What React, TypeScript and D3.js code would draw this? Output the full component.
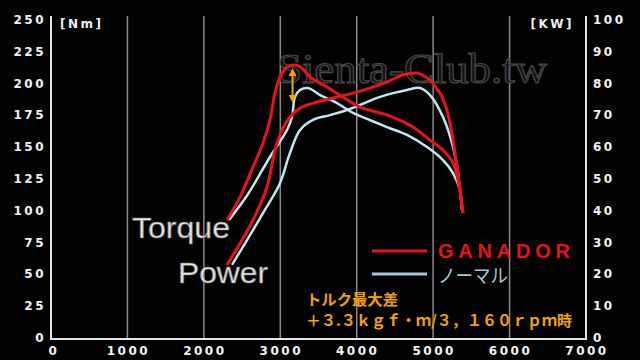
import React from "react";
import * as d3 from "d3";

const rpmTicks = [0, 1000, 2000, 3000, 4000, 5000, 6000, 7000];
const nmTicks = [0, 25, 50, 75, 100, 125, 150, 175, 200, 225, 250];
const kwTicks = [0, 10, 20, 30, 40, 50, 60, 70, 80, 90, 100];

const ganadorTorque: [number, number][] = [
  [2303, 92.8], [2473, 110.8], [2643, 134.4], [2774, 153.3], [2865, 171.4], [2931, 192.6],
  [2996, 205.2], [3088, 213], [3192, 214.6], [3284, 212.2], [3388, 205.2], [3611, 197.3],
  [3820, 189.4], [4043, 181.6], [4265, 177.6], [4475, 173.7], [4736, 165.8], [4959, 155.6],
  [5129, 147.8], [5260, 137.6], [5325, 124.2], [5391, 98.3],
];
const ganadorPower: [number, number][] = [
  [2303, 23.0], [2480, 30.0], [2643, 37.1], [2826, 47.5], [2931, 59.1], [3022, 65.4],
  [3127, 69.5], [3258, 72.3], [3480, 74.2], [3742, 75.8], [3951, 77.0], [4174, 78.6],
  [4396, 80.5], [4605, 82.7], [4788, 83.3], [4919, 81.8], [5090, 77.0], [5181, 71.7],
  [5260, 62.3], [5325, 51.9], [5391, 39.3],
];
const normalTorque: [number, number][] = [
  [2329, 92.8], [2565, 112], [2865, 142.3], [3088, 163.5], [3153, 173.7], [3192, 189.4],
  [3258, 194.9], [3363, 196.5], [3520, 191], [3742, 184.7], [3951, 176.9], [4174, 171.3],
  [4396, 165.8], [4658, 159.6], [4920, 150.1], [5129, 139.9], [5260, 129.7], [5351, 116.3],
  [5378, 100.6],
];
const normalPower: [number, number][] = [
  [2368, 23.0], [2565, 30.8], [2774, 39.3], [2996, 48.7], [3127, 58.2], [3258, 65.4],
  [3428, 68.6], [3650, 70.1], [3873, 71.7], [4043, 73.3], [4265, 75.5], [4475, 77.0],
  [4658, 78.0], [4828, 78.6], [4959, 76.4], [5129, 69.5], [5260, 60.1], [5325, 51.9],
  [5378, 40.3],
];
const arrowRpm = 3160;
const arrowNm = [212, 185];

const legendNames = ["GANADOR", "ノーマル"];
const noteLines = ["トルク最大差", "＋３.３ｋｇｆ・ｍ/３，１６０ｒｐｍ時"];

const RED = "#e8121c";
const BLUE = "#bfe8f4";
const ORANGE = "#f5a300";

export default function App() {
  const x = d3.scaleLinear().domain([0, 7000]).range([51, 586]);
  const yNm = d3.scaleLinear().domain([0, 250]).range([338, 20]);
  const yKw = d3.scaleLinear().domain([0, 100]).range([338, 20]);

  const lineNm = d3.line<[number, number]>().x(d => x(d[0])).y(d => yNm(d[1])).curve(d3.curveCatmullRom.alpha(0.5));
  const lineKw = d3.line<[number, number]>().x(d => x(d[0])).y(d => yKw(d[1])).curve(d3.curveCatmullRom.alpha(0.5));

  const tickFont = { fontFamily: "'DejaVu Sans', sans-serif", fontWeight: 700, fontSize: 12, fill: "#f2f2f2", letterSpacing: 2.5 } as const;
  const ax = x(arrowRpm);

  return (
    <svg width={640} height={360} style={{ position: "absolute", left: 0, top: 0, background: "#020202" }}>
      <defs>
        <marker id="ah" viewBox="0 0 10 10" refX="5" refY="5" markerWidth="4" markerHeight="4" orient="auto-start-reverse">
          <path d="M0,0 L10,5 L0,10 z" fill={ORANGE} />
        </marker>
      </defs>
      <rect width={640} height={360} fill="#020202" />
      {rpmTicks.slice(1, -1).map(t => (
        <line key={t} x1={x(t)} x2={x(t)} y1={16} y2={338} stroke="#8a8a8a" strokeWidth={1.5} />
      ))}
      {/* watermark */}
      <text x={277} y={83} textLength={270} lengthAdjust="spacingAndGlyphs"
        style={{ fontFamily: "'Liberation Serif', serif", fontSize: 42, fill: "rgba(22,22,22,0.8)", stroke: "#484848", strokeWidth: 1.2 }}>
        Sienta-Club.tw
      </text>
      {/* axes */}
      <line x1={51} x2={51} y1={16} y2={339.5} stroke="#e6e6e6" strokeWidth={2} />
      <line x1={586} x2={586} y1={16} y2={339.5} stroke="#e6e6e6" strokeWidth={2} />
      <line x1={50} x2={587} y1={339} y2={339} stroke="#e6e6e6" strokeWidth={2} />
      {nmTicks.map(t => (
        <text key={t} x={46} y={yNm(t)} textAnchor="end" dominantBaseline="central" style={tickFont}>{t}</text>
      ))}
      {kwTicks.map(t => (
        <text key={t} x={593} y={yKw(t)} textAnchor="start" dominantBaseline="central" style={tickFont}>{t}</text>
      ))}
      {rpmTicks.map(t => (
        <text key={t} x={x(t) + (t === 0 ? 3 : 1)} y={351} textAnchor="middle" dominantBaseline="central" style={tickFont}>{t}</text>
      ))}
      <text x={60} y={24} dominantBaseline="central" style={{ ...tickFont, fontSize: 12 }}>[Nm]</text>
      <text x={574} y={24} textAnchor="end" dominantBaseline="central" style={{ ...tickFont, fontSize: 12 }}>[KW]</text>

      {/* curves */}
      <path d={lineKw(normalPower) || ""} fill="none" stroke={BLUE} strokeWidth={2.5} />
      <path d={lineNm(normalTorque) || ""} fill="none" stroke={BLUE} strokeWidth={2.5} />
      <path d={lineKw(ganadorPower) || ""} fill="none" stroke={RED} strokeWidth={3} />
      <path d={lineNm(ganadorTorque) || ""} fill="none" stroke={RED} strokeWidth={3} />

      {/* arrow */}
      <line x1={ax} x2={ax} y1={yNm(arrowNm[0]) + 4} y2={yNm(arrowNm[1]) - 4} stroke={ORANGE} strokeWidth={2}
        markerStart="url(#ah)" markerEnd="url(#ah)" />

      {/* Torque / Power labels */}
      <text x={132} y={238} textLength={98} lengthAdjust="spacingAndGlyphs"
        style={{ fontFamily: "'Liberation Sans', Arial, sans-serif", fontSize: 29, fill: "#e4e4e4", stroke: "#777", strokeWidth: 0.6 }}>Torque</text>
      <text x={178} y={283} textLength={90} lengthAdjust="spacingAndGlyphs"
        style={{ fontFamily: "'Liberation Sans', Arial, sans-serif", fontSize: 29, fill: "#e4e4e4", stroke: "#777", strokeWidth: 0.6 }}>Power</text>

      {/* legend */}
      <line x1={372} x2={427} y1={251} y2={251} stroke={RED} strokeWidth={3} />
      <text x={438} y={258} textLength={132} lengthAdjust="spacing"
        style={{ fontFamily: "'Liberation Sans', 'DejaVu Sans', sans-serif", fontWeight: 700, fontSize: 20, fill: RED }}>{legendNames[0]}</text>
      <line x1={372} x2={427} y1={274} y2={274} stroke="#a8c6d6" strokeWidth={3} />
      <text x={438} y={283} textLength={70} lengthAdjust="spacingAndGlyphs"
        style={{ fontFamily: "'Noto Sans CJK JP', sans-serif", fontSize: 19, fill: "#a8c6d6" }}>{legendNames[1]}</text>

      {/* annotation */}
      <text x={306} y={305} textLength={92} lengthAdjust="spacingAndGlyphs"
        style={{ fontFamily: "'Noto Sans CJK JP', sans-serif", fontWeight: 700, fontSize: 15, fill: ORANGE }}>{noteLines[0]}</text>
      <text x={306} y={326} textLength={266} lengthAdjust="spacing"
        style={{ fontFamily: "'Noto Sans CJK JP', sans-serif", fontWeight: 700, fontSize: 15, fill: ORANGE }}>{noteLines[1]}</text>
    </svg>
  );
}
